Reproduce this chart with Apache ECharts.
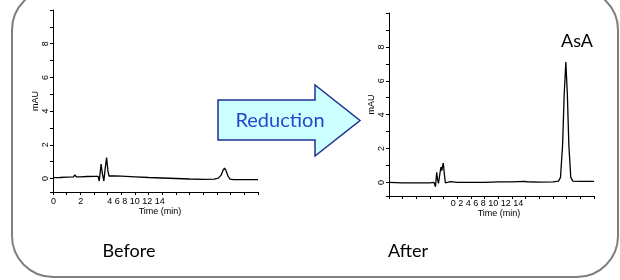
<!DOCTYPE html>
<html>
<head>
<meta charset="utf-8">
<script src="https://cdn.jsdelivr.net/npm/echarts@6/dist/echarts.min.js"></script>
<style>
html,body{margin:0;padding:0;background:#fff;}
#c{width:620px;height:280px;}
</style>
</head>
<body>
<div id="c"></div>
<script>
// ---- data ----
var beforeTime = [0, 0.5, 1.0, 1.5, 1.6, 1.7, 2.0, 2.5, 3.0, 3.3, 3.38, 3.45, 3.52, 3.6, 3.72, 3.8, 3.92, 4.02, 4.1, 4.5, 5, 6, 7, 8, 9, 10, 11, 11.8, 12.1, 12.3, 12.45, 12.55, 12.65, 12.8, 12.95, 13.2, 14, 15];
var beforeMAU  = [0.05, 0.06, 0.08, 0.1, 0.22, 0.1, 0.1, 0.12, 0.13, 0.13, -0.15, 0.35, 0.85, 0.35, -0.15, 0.45, 1.25, 0.45, 0.15, 0.15, 0.14, 0.1, 0.06, 0.03, 0.0, -0.03, -0.05, -0.04, 0.02, 0.2, 0.5, 0.62, 0.5, 0.15, -0.03, -0.06, -0.07, -0.07];

var afterTime = [0, 1, 2, 3, 3.3, 3.4, 3.49, 3.56, 3.62, 3.72, 3.8, 3.86, 3.97, 4.05, 4.12, 4.2, 4.5, 4.6, 5, 6, 7, 8, 9, 9.9, 10.1, 11, 12, 12.4, 12.55, 12.7, 12.82, 12.94, 13.05, 13.16, 13.3, 13.45, 14, 15];
var afterMAU  = [0.0, -0.02, -0.03, -0.02, 0.0, -0.25, 0.6, 0.15, -0.05, 0.5, 0.9, 0.7, 1.15, 0.5, -0.02, 0.02, 0.05, 0.02, 0.0, 0.0, 0.01, 0.03, 0.03, 0.06, 0.04, 0.02, 0.03, 0.08, 0.3, 2.2, 5.2, 7.1, 5.2, 2.2, 0.3, 0.08, 0.06, 0.06];

var xTickLabels = ['0', '2', '4', '6', '8', '10', '12', '14'];
var xTitle = 'Time (min)';
var yTitle = 'mAU';
var panelTitles = ['Before', 'After'];
var peakLabel = 'AsA';
var arrowLabel = 'Reduction';

function pairs(t, v) { return t.map(function (x, i) { return [x, v[i]]; }); }

var FONT = '"Liberation Sans", Arial, sans-serif';
var BIG = 'Lato, "Open Sans", sans-serif';

function xAxisCfg(idx) {
  return {
    type: 'value', gridIndex: idx, min: 0, max: 15, interval: 1,
    axisLine: { show: true, onZero: false, lineStyle: { color: '#000', width: 1 } },
    axisTick: { show: true, length: 3, lineStyle: { color: '#000' } },
    axisLabel: { show: false },
    splitLine: { show: false }
  };
}
function yAxisCfg(idx) {
  return {
    type: 'value', gridIndex: idx, min: -0.8, max: 10, splitNumber: 5,
    name: yTitle, nameLocation: 'middle', nameGap: 13, nameRotate: 90,
    nameTextStyle: { fontSize: 9, color: '#000', fontFamily: FONT },
    axisLine: { show: true, lineStyle: { color: '#000', width: 1 } },
    axisTick: { show: true, length: 3, lineStyle: { color: '#000' } },
    minorTick: { show: true, splitNumber: 2, length: 3, lineStyle: { color: '#000' } },
    axisLabel: {
      rotate: 90, fontSize: 9, color: '#000', margin: 3, fontFamily: FONT,
      formatter: function (v) { return (v >= 0 && v < 10 && Math.abs(v % 2) < 1e-9) ? String(v) : ''; }
    },
    splitLine: { show: false }
  };
}

var chart = echarts.init(document.getElementById('c'), null, { renderer: 'canvas' });
var leftRest = xTickLabels.slice(2).join(' ');
var rightAll = xTickLabels.join(' ');

chart.setOption({
  animation: false,
  backgroundColor: '#fff',
  grid: [
    { left: 53, top: 10, width: 205, height: 182 },
    { left: 389, top: 13, width: 205, height: 183 }
  ],
  xAxis: [xAxisCfg(0), xAxisCfg(1)],
  yAxis: [yAxisCfg(0), yAxisCfg(1)],
  series: [
    { type: 'line', xAxisIndex: 0, yAxisIndex: 0, data: pairs(beforeTime, beforeMAU), showSymbol: false,
      lineStyle: { color: '#000', width: 1.3 }, silent: true },
    { type: 'line', xAxisIndex: 1, yAxisIndex: 1, data: pairs(afterTime, afterMAU), showSymbol: false,
      lineStyle: { color: '#000', width: 1.3 }, silent: true }
  ],
  graphic: [
    { type: 'rect', shape: { x: 12, y: -11, width: 606, height: 288, r: 41 },
      style: { fill: 'none', stroke: '#7f7f7f', lineWidth: 2 }, z: -1 },
    { type: 'polygon',
      shape: { points: [[218, 100], [315, 100], [315, 85], [360, 120.5], [315, 156], [315, 140], [218, 140]] },
      style: { fill: '#ccffff', stroke: '#1f2f8f', lineWidth: 1.5 } },
    { type: 'text', x: 280, y: 121, style: { text: arrowLabel, fontSize: 20, fill: '#2448c8', fontFamily: BIG, align: 'center', verticalAlign: 'middle' } },
    { type: 'text', x: 129, y: 251, style: { text: panelTitles[0], fontSize: 18, fill: '#000', fontFamily: BIG, align: 'center', verticalAlign: 'middle' } },
    { type: 'text', x: 408, y: 251, style: { text: panelTitles[1], fontSize: 18, fill: '#000', fontFamily: BIG, align: 'center', verticalAlign: 'middle' } },
    { type: 'text', x: 577, y: 41, style: { text: peakLabel, fontSize: 18, fill: '#000', fontFamily: BIG, align: 'center', verticalAlign: 'middle' } },
    // x tick labels, as placed in the original figure
    { type: 'text', x: 53.5, y: 202, style: { text: xTickLabels[0], fontSize: 9, fill: '#000', fontFamily: FONT, align: 'center', verticalAlign: 'middle' } },
    { type: 'text', x: 80.7, y: 202, style: { text: xTickLabels[1], fontSize: 9, fill: '#000', fontFamily: FONT, align: 'center', verticalAlign: 'middle' } },
    { type: 'text', x: 136, y: 202, style: { text: leftRest, fontSize: 9, fill: '#000', fontFamily: FONT, align: 'center', verticalAlign: 'middle' } },
    { type: 'text', x: 160, y: 211.5, style: { text: xTitle, fontSize: 9, fill: '#000', fontFamily: FONT, align: 'center', verticalAlign: 'middle' } },
    { type: 'text', x: 487, y: 204, style: { text: rightAll, fontSize: 9, fill: '#000', fontFamily: FONT, align: 'center', verticalAlign: 'middle' } },
    { type: 'text', x: 499, y: 213.5, style: { text: xTitle, fontSize: 9, fill: '#000', fontFamily: FONT, align: 'center', verticalAlign: 'middle' } }
  ]
});
</script>
</body>
</html>
